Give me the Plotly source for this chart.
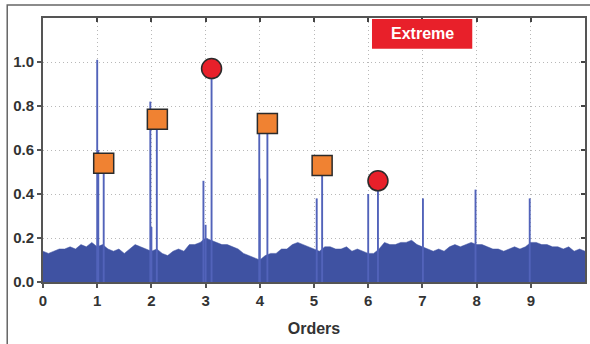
import plotly.graph_objects as go

# Noise floor envelope, read every 0.1 order from 0 to 10
floor_x = [round(i * 0.1, 1) for i in range(101)]
floor_y = [0.14, 0.13, 0.14, 0.15, 0.15, 0.16, 0.15, 0.17, 0.16, 0.18,
           0.16, 0.17, 0.15, 0.14, 0.15, 0.13, 0.15, 0.17, 0.16, 0.15,
           0.14, 0.15, 0.13, 0.12, 0.14, 0.15, 0.14, 0.17, 0.17, 0.18,
           0.20, 0.19, 0.18, 0.17, 0.17, 0.16, 0.15, 0.13, 0.12, 0.11,
           0.10, 0.12, 0.13, 0.13, 0.15, 0.15, 0.17, 0.18, 0.17, 0.16,
           0.15, 0.14, 0.16, 0.16, 0.15, 0.15, 0.16, 0.14, 0.15, 0.14,
           0.13, 0.13, 0.15, 0.18, 0.17, 0.17, 0.18, 0.18, 0.19, 0.17,
           0.16, 0.15, 0.14, 0.15, 0.14, 0.16, 0.17, 0.16, 0.17, 0.18,
           0.17, 0.17, 0.16, 0.15, 0.15, 0.14, 0.15, 0.16, 0.15, 0.16,
           0.18, 0.18, 0.17, 0.17, 0.16, 0.16, 0.15, 0.16, 0.14, 0.15,
           0.14]

# Spectral spikes
spike_x = [1.00, 1.02, 1.12, 1.98, 2.00, 2.10, 2.96, 3.00, 3.11, 3.99, 4.00,
           4.14, 5.05, 5.15, 6.00, 6.18, 7.01, 7.98, 8.98]
spike_h = [1.01, 0.60, 0.50, 0.82, 0.25, 0.70, 0.46, 0.26, 0.95, 0.70, 0.47,
           0.68, 0.38, 0.50, 0.40, 0.44, 0.38, 0.42, 0.38]

# Markers
square_x = [1.12, 2.11, 4.14, 5.15]
square_y = [0.54, 0.74, 0.72, 0.53]
circle_x = [3.11, 6.18]
circle_y = [0.97, 0.46]

x_ticks = [0, 1, 2, 3, 4, 5, 6, 7, 8, 9]
y_ticks = [0.0, 0.2, 0.4, 0.6, 0.8, 1.0]
label_text = "Extreme"

FILL = "#3f52a2"
SPIKE = "#5263ba"
FONT = "Liberation Sans, Arial, sans-serif"

fig = go.Figure()

fig.add_trace(go.Scatter(x=floor_x, y=floor_y, mode="lines", line=dict(width=0.5, color=FILL),
                         fill="tozeroy", fillcolor=FILL, hoverinfo="skip", showlegend=False))

sx, sy = [], []
for x, h in zip(spike_x, spike_h):
    sx += [x, x, None]
    sy += [0, h, None]
fig.add_trace(go.Scatter(x=sx, y=sy, mode="lines", line=dict(color=SPIKE, width=1.9),
                         hoverinfo="skip", showlegend=False))

fig.add_trace(go.Scatter(x=square_x, y=square_y, mode="markers",
                         marker=dict(symbol="square", size=20, color="#f08232",
                                     line=dict(color="#2b2b2b", width=1.5)),
                         showlegend=False))
fig.add_trace(go.Scatter(x=circle_x, y=circle_y, mode="markers",
                         marker=dict(symbol="circle", size=20, color="#e8202a",
                                     line=dict(color="#2b2b2b", width=1.5)),
                         showlegend=False))

# mirrored axes for inward ticks on top and right
fig.add_trace(go.Scatter(x=[0], y=[0], xaxis="x2", yaxis="y2", mode="markers",
                         marker=dict(opacity=0), hoverinfo="skip", showlegend=False))

tickfont = dict(family=FONT, size=15, color="#333333", weight="bold")
grid = dict(showgrid=True, gridcolor="#b8b8b8", griddash="1px,3px", gridwidth=1)
fig.update_layout(
    width=590, height=344,
    margin=dict(l=43, r=3, t=18, b=62),
    paper_bgcolor="white", plot_bgcolor="white",
    xaxis=dict(range=[0, 10], tickvals=x_ticks, ticks="outside", ticklen=4,
               tickcolor="#555", tickwidth=1.5, **grid,
               showline=True, linecolor="#555555", linewidth=2, mirror=True,
               tickfont=tickfont, zeroline=False,
               title=dict(text="Orders", standoff=15,
                          font=dict(family=FONT, size=16, color="#333333", weight="bold"))),
    yaxis=dict(range=[0, 1.2], tickvals=y_ticks, tickformat=".1f", ticks="outside", ticklen=4,
               tickcolor="#555", tickwidth=1.5, **grid,
               showline=True, linecolor="#555555", linewidth=2, mirror=True,
               tickfont=tickfont, zeroline=False),
    xaxis2=dict(range=[0, 10], overlaying="x", side="top", tickvals=x_ticks[1:],
                ticks="inside", ticklen=4, tickcolor="#444", tickwidth=1.5,
                showticklabels=False, showgrid=False, zeroline=False),
    yaxis2=dict(range=[0, 1.2], overlaying="y", side="right", tickvals=y_ticks[1:],
                ticks="inside", ticklen=4, tickcolor="#444", tickwidth=1.5,
                showticklabels=False, showgrid=False, zeroline=False),
    font=dict(family=FONT),
)

# Extreme label box
fig.add_shape(type="rect", xref="x", yref="y", x0=6.07, x1=7.92, y0=1.06, y1=1.195,
              fillcolor="#e8202a", line=dict(width=0), layer="above")
fig.add_annotation(x=6.995, y=1.128, xref="x", yref="y", text=label_text,
                   showarrow=False, font=dict(color="white", size=16, family=FONT, weight="bold"))

# outer frame
fig.add_shape(type="rect", xref="paper", yref="paper", x0=-0.066, x1=1.2, y0=-0.5, y1=1.049,
              line=dict(color="#666666", width=1.5), fillcolor="rgba(0,0,0,0)")

fig.write_html("out.html")
